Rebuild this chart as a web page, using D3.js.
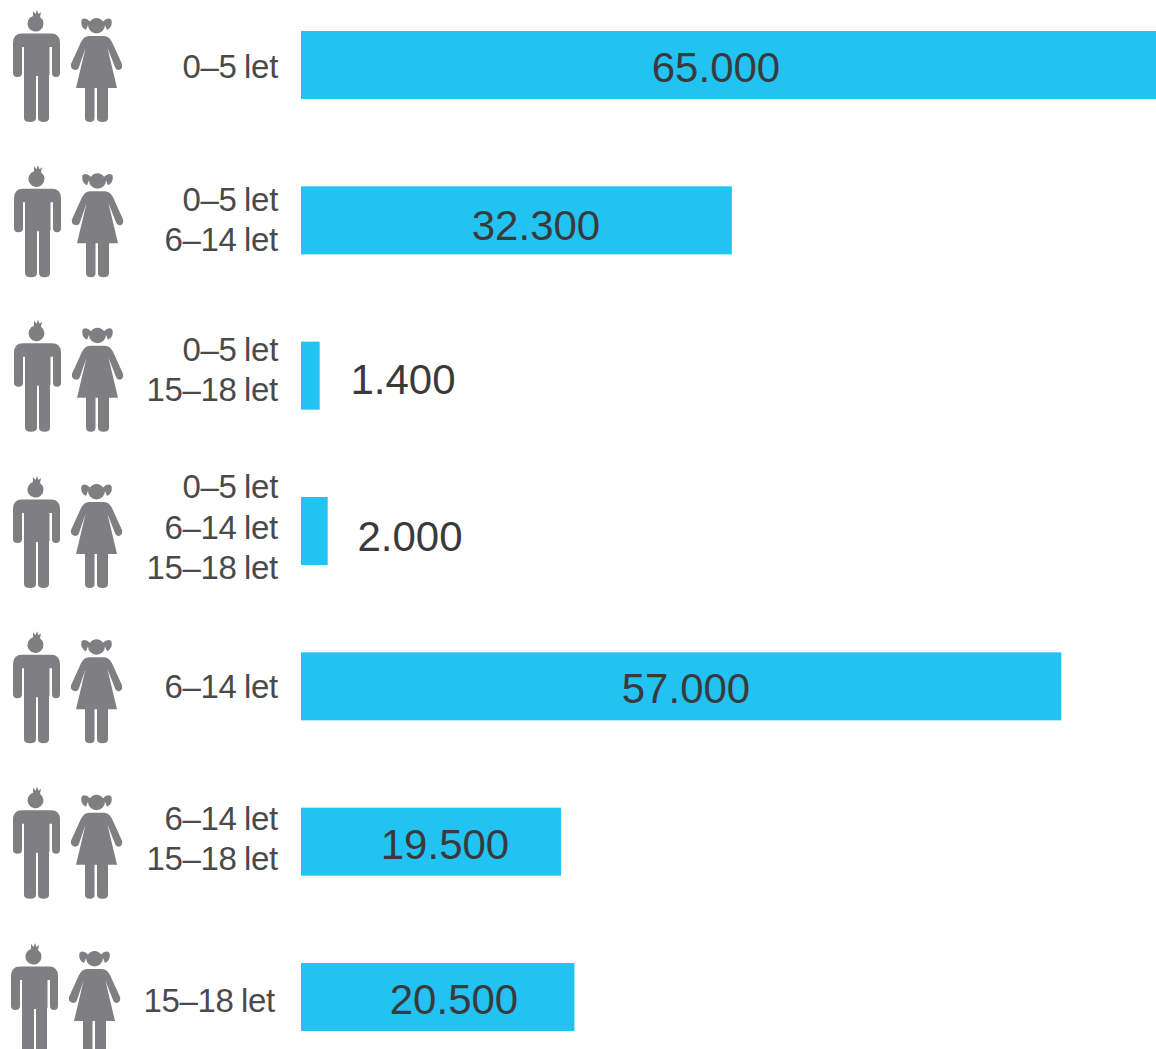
<!DOCTYPE html>
<html><head><meta charset="utf-8">
<script src="https://cdn.jsdelivr.net/npm/d3@7/dist/d3.min.js"></script>
<style>html,body{margin:0;padding:0;background:#fff;overflow:hidden}svg{display:block}text{font-family:"Liberation Sans",Arial,sans-serif}</style>
</head><body><svg id="c" width="1156" height="1049"></svg>
<script>
const ageLabels=[["0–5 let"],["0–5 let","6–14 let"],["0–5 let","15–18 let"],["0–5 let","6–14 let","15–18 let"],["6–14 let"],["6–14 let","15–18 let"],["15–18 let"]];
const values=[65000,32300,1400,2000,57000,19500,20500];
const valueLabels=["65.000","32.300","1.400","2.000","57.000","19.500","20.500"];
// hand-placed layout offsets of the original artwork
const iconDx=[0,1,1,0,0,0,-2], iconDy=[0,0,-1,0,0,0,1];
const ageDy=[1,-1,-6,-4,0,-3,3], ageDx=[0,0,0,0,0,0,-3];
const valueCx=[716,536,403,410,686,445,454], valueDy=[17,20,18,20,17,17,17];

const barH=68;
const svg=d3.select("#c");
const defs=svg.append("defs");
defs.append("filter").attr("id","soft").append("feGaussianBlur").attr("stdDeviation",0.6);
const x=d3.scaleLinear().domain([0,65000]).range([301,1168]);
const y=d3.scaleLinear().domain([0,6]).range([31,963]);

const boy="M33 16 L33 11 L35.500 14 L37 10 L38.500 14 L41 12 L40 17 A8 8 0 1 1 33 16 z"+
"M22 33.500 H51 Q60 33.500 60 43 V73 Q60 77 56 77 Q52 77 52 73 V47 H49.500 V75 H49 V118 Q49 122 43.500 122 Q38 122 38 118 V76 H36 V118 Q36 122 30 122 Q24 122 24 118 V75 H24 V47 H22 V73 Q22 77 17.500 77 Q13 77 13 73 V43 Q13 33.500 22 33.500 z";
const girl="M96.500 18 A8 8 0 0 1 103 21.500 Q108 16.500 111.500 20 Q113 27 107 30 L105 25 A8 8 0 0 1 88 25 L86 30 Q80 27 81.500 20 Q85 16.500 90 21.500 A8 8 0 0 1 96.500 18 z"+
"M89 36 H104 Q109 36 112 42 L122 64 Q123 69 119 70 Q116 70 115 67 L107.500 48 L117 88 H108 V118 Q108 122 102.500 122 Q97 122 97 118 V88 H94.500 V118 Q94.500 122 90 122 Q85 122 85 118 V88 H76 L85.500 48 L79 67 Q78 70 75 70 Q70 69 71 64 L81 42 Q84 36 89 36 z";

const rows=svg.selectAll("g.row").data(values).join("g").attr("class","row");
rows.append("path").attr("d",boy+girl).attr("fill","#7f7f82").attr("filter","url(#soft)")
  .attr("transform",(d,i)=>`translate(${iconDx[i]},${y(i)-31+iconDy[i]})`);
rows.append("rect").attr("x",x(0)).attr("y",(d,i)=>y(i)).attr("height",barH)
  .attr("width",d=>x(d)-x(0)).attr("fill","#22c3f3");
rows.each(function(d,i){
  const ls=ageLabels[i],g=d3.select(this),c=y(i)+34,lh=40.500;
  ls.forEach((t,j)=>g.append("text").attr("x",278+ageDx[i]).attr("y",c+(j-(ls.length-1)/2)*lh+11.500+ageDy[i])
    .attr("text-anchor","end").attr("font-size",33).attr("letter-spacing",-0.3).attr("word-spacing",-1.5)
    .attr("fill","#4a4a4c").text(t));
  g.append("text").attr("x",valueCx[i]).attr("y",c+valueDy[i])
    .attr("text-anchor","middle").attr("font-size",42).attr("fill","#3a3a3c").text(valueLabels[i]);
});
</script></body></html>
